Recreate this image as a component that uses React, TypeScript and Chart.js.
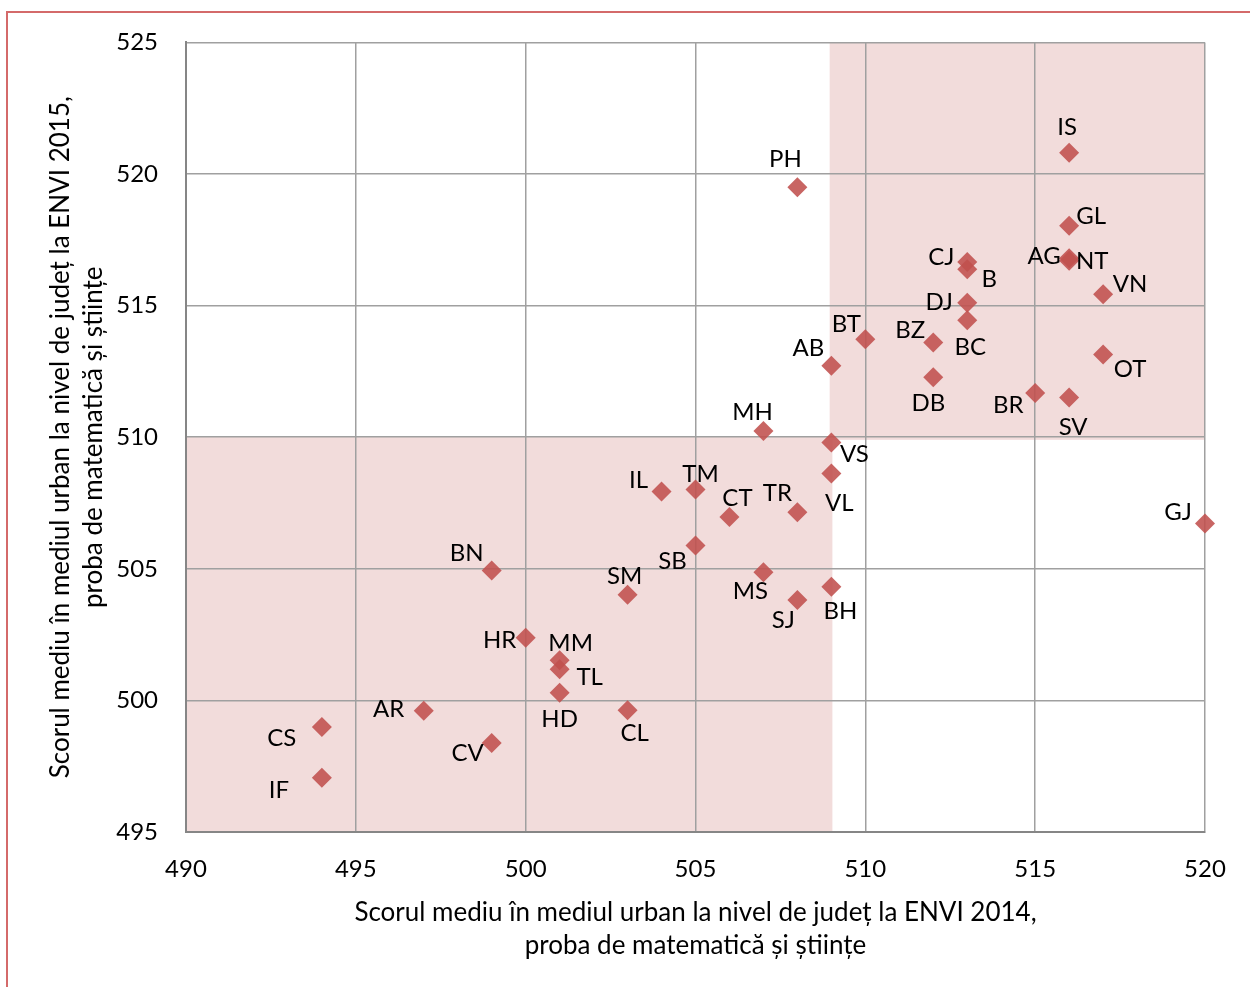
import React, { useEffect, useRef } from "react";
import { Chart, registerables } from "chart.js";

Chart.register(...registerables);

// County codes
const counties = [
  "IS", "PH", "GL", "CJ", "B", "AG", "NT", "VN", "DJ", "BC",
  "BT", "BZ", "OT", "AB", "DB", "BR", "SV", "MH", "VS", "VL",
  "IL", "TM", "CT", "TR", "GJ", "SB", "BN", "MS", "SM", "BH",
  "SJ", "HR", "MM", "TL", "HD", "AR", "CL", "CS", "CV", "IF",
];

// Average urban score ENVI 2014 (x)
const score2014 = [
  516, 508, 516, 513, 513, 516, 516, 517, 513, 513,
  510, 512, 517, 509, 512, 515, 516, 507, 509, 509,
  504, 505, 506, 508, 520, 505, 499, 507, 503, 509,
  508, 500, 501, 501, 501, 497, 503, 494, 499, 494,
];

// Average urban score ENVI 2015 (y)
const score2015 = [
  520.81, 519.5, 518.03, 516.66, 516.38, 516.8, 516.7, 515.43, 515.11, 514.44,
  513.72, 513.6, 513.14, 512.71, 512.28, 511.68, 511.51, 510.24, 509.8, 508.62,
  507.94, 508.01, 506.97, 507.15, 506.72, 505.89, 504.94, 504.87, 504.01, 504.32,
  503.81, 502.38, 501.53, 501.18, 500.29, 499.61, 499.63, 498.99, 498.38, 497.06,
];

// Label placement relative to each marker (pixels)
const labelShift: [number, number][] = [
  [-2, -25], [-12, -28], [22, -10], [-26, -5], [22, 10], [-25, -2], [23, 0], [27, -10], [-28, 0], [3, 27],
  [-19, -15], [-23, -12], [27, 15], [-23, -18], [-5, 26], [-27, 12], [4, 30], [-11, -19], [23, 12], [8, 30],
  [-23, -11], [5, -15], [8, -19], [-20, -19], [-27, -11], [-23, 16], [-25, -17], [-13, 19], [-3, -19], [9, 25],
  [-14, 20], [-26, 3], [11, -17], [30, 8], [0, 26], [-35, -1], [7, 23], [-40, 11], [-24, 10], [-43, 12],
];

// Axis ranges / ticks
const xMin = 490, xMax = 520, xStep = 5;
const yMin = 495, yMax = 525, yStep = 5;

// Highlighted quadrants (data units)
const upperZone = { x0: 508.95, x1: 520, y0: 509.9, y1: 525 };
const lowerZone = { x0: 490, x1: 509.03, y0: 495, y1: 510.03 };

const xTitle = [
  "Scorul mediu în mediul urban la nivel de județ la ENVI 2014,",
  "proba de matematică și științe",
];
const yTitle = [
  "Scorul mediu în mediul urban la nivel de județ la ENVI 2015,",
  "proba de matematică și științe",
];

const FONT = "Lato";

export default function App() {
  const ref = useRef<HTMLCanvasElement>(null);

  useEffect(() => {
    if (!ref.current) return;

    const zonesPlugin = {
      id: "zones",
      beforeDraw(chart: any) {
        const { ctx, scales } = chart;
        const x = scales.x, y = scales.y;
        ctx.save();
        ctx.fillStyle = "#f2dcdb";
        for (const z of [upperZone, lowerZone]) {
          const l = x.getPixelForValue(z.x0);
          const r = x.getPixelForValue(z.x1);
          const t = y.getPixelForValue(z.y1);
          const b = y.getPixelForValue(z.y0);
          ctx.fillRect(l, t, r - l, b - t);
        }
        ctx.restore();
      },
      afterDraw(chart: any) {
        const { ctx } = chart;
        ctx.save();
        ctx.strokeStyle = "#d46a6a";
        ctx.lineWidth = 2;
        ctx.strokeRect(7, 12, 1400, 1400);
        ctx.restore();
      },
    };

    const labelsPlugin = {
      id: "pointLabels",
      afterDatasetsDraw(chart: any) {
        const { ctx } = chart;
        const meta = chart.getDatasetMeta(0);
        ctx.save();
        ctx.font = `24px ${FONT}`;
        ctx.fillStyle = "#000";
        ctx.textAlign = "center";
        ctx.textBaseline = "middle";
        meta.data.forEach((el: any, i: number) => {
          const [dx, dy] = labelShift[i];
          ctx.fillText(counties[i], el.x + dx, el.y + dy);
        });
        ctx.restore();
      },
    };

    const chart = new Chart(ref.current, {
      type: "scatter",
      data: {
        datasets: [
          {
            data: score2014.map((v, i) => ({ x: v, y: score2015[i] })),
            pointStyle: "rectRot",
            pointRadius: 10,
            pointHoverRadius: 10,
            backgroundColor: "rgba(192,80,77,0.88)",
            borderColor: "rgba(192,80,77,0.88)",
            borderWidth: 0,
            clip: false,
          } as any,
        ],
      },
      options: {
        animation: false,
        responsive: false,
        devicePixelRatio: 1,
        layout: { padding: { left: 0, right: 45, top: 42, bottom: 0 } },
        plugins: {
          legend: { display: false },
          tooltip: { enabled: false },
        },
        scales: {
          x: {
            type: "linear",
            min: xMin,
            max: xMax,
            ticks: {
              stepSize: xStep,
              padding: 23,
              color: "#000",
              font: { family: FONT, size: 24 },
            },
            grid: { color: "#a0a0a0", lineWidth: 1.5, drawTicks: false },
            border: { color: "#868686", width: 2 },
            title: {
              display: true,
              text: xTitle,
              color: "#000",
              font: { family: FONT, size: 26, lineHeight: 33 / 26 },
              padding: { top: 0, bottom: 25 },
            },
            afterFit: (s: any) => {
              s.height = 155;
            },
          },
          y: {
            type: "linear",
            min: yMin,
            max: yMax,
            ticks: {
              stepSize: yStep,
              padding: 28,
              color: "#000",
              font: { family: FONT, size: 24 },
            },
            grid: { color: "#a0a0a0", lineWidth: 1.5, drawTicks: false },
            border: { color: "#868686", width: 2 },
            title: {
              display: true,
              text: yTitle,
              color: "#000",
              font: { family: FONT, size: 26, lineHeight: 33 / 26 },
              padding: { top: 44, bottom: 0 },
            },
            afterFit: (s: any) => {
              s.width = 186;
            },
          },
        },
      } as any,
      plugins: [zonesPlugin, labelsPlugin],
    });

    return () => chart.destroy();
  }, []);

  return (
    <div style={{ position: "absolute", left: 0, top: 0, width: 1250, height: 987 }}>
      <canvas ref={ref} width={1250} height={987} style={{ display: "block" }} />
    </div>
  );
}
